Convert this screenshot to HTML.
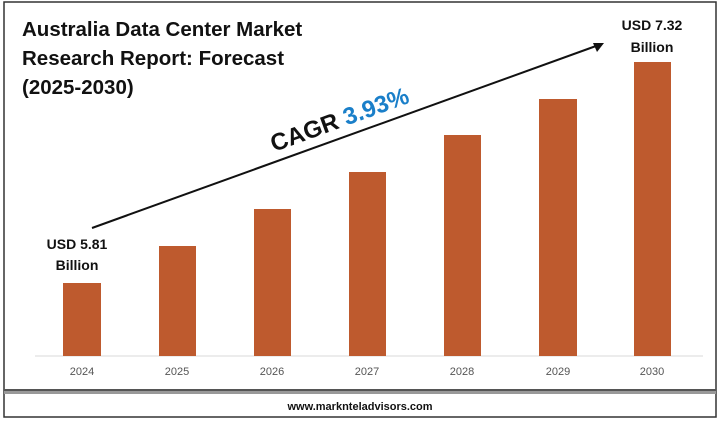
<!DOCTYPE html><html><head><style>
body{margin:0;background:#fff;}
svg text{font-family:"Liberation Sans",sans-serif;}
</style></head><body>
<svg width="720" height="419" xmlns="http://www.w3.org/2000/svg">
<rect x="0" y="0" width="720" height="419" fill="#fff"/>
<rect x="4" y="2" width="712" height="415" fill="none" stroke="#333" stroke-width="1.5"/>
<rect x="4" y="389" width="712" height="5" fill="#999"/>
<rect x="4" y="389" width="712" height="2" fill="#555"/>
<text x="22" y="36" font-size="20.5" font-weight="bold" fill="#111">Australia Data Center Market</text>
<text x="22" y="65" font-size="20.5" font-weight="bold" fill="#111">Research Report: Forecast</text>
<text x="22" y="94" font-size="20.5" font-weight="bold" fill="#111">(2025-2030)</text>
<line x1="35" y1="356" x2="703" y2="356" stroke="#d9d9d9" stroke-width="1"/>
<g fill="#be5a2e">
<rect x="63" y="283" width="38" height="73"/>
<rect x="159" y="246" width="37" height="110"/>
<rect x="254" y="209" width="37" height="147"/>
<rect x="349" y="172" width="37" height="184"/>
<rect x="444" y="135" width="37" height="221"/>
<rect x="539" y="99" width="38" height="257"/>
<rect x="634" y="62" width="37" height="294"/>
</g>
<g font-size="11" fill="#555" text-anchor="middle">
<text x="82" y="375">2024</text><text x="177" y="375">2025</text><text x="272" y="375">2026</text>
<text x="367" y="375">2027</text><text x="462" y="375">2028</text><text x="558" y="375">2029</text><text x="652" y="375">2030</text>
</g>
<g font-size="14" font-weight="bold" fill="#111" text-anchor="middle">
<text x="77" y="249">USD 5.81</text><text x="77" y="270">Billion</text>
<text x="652" y="30">USD 7.32</text><text x="652" y="52">Billion</text>
</g>
<line x1="92" y1="228" x2="596" y2="46" stroke="#111" stroke-width="2"/>
<polygon points="604,43 593,43 597,52" fill="#111"/>
<text x="0" y="0" font-size="24" font-weight="bold" transform="translate(274,152) rotate(-20)"><tspan fill="#111">CAGR </tspan><tspan fill="#1a7fc9">3.93%</tspan></text>
<text x="360" y="410" font-size="11" font-weight="bold" fill="#111" text-anchor="middle">www.marknteladvisors.com</text>
</svg>
</body></html>
